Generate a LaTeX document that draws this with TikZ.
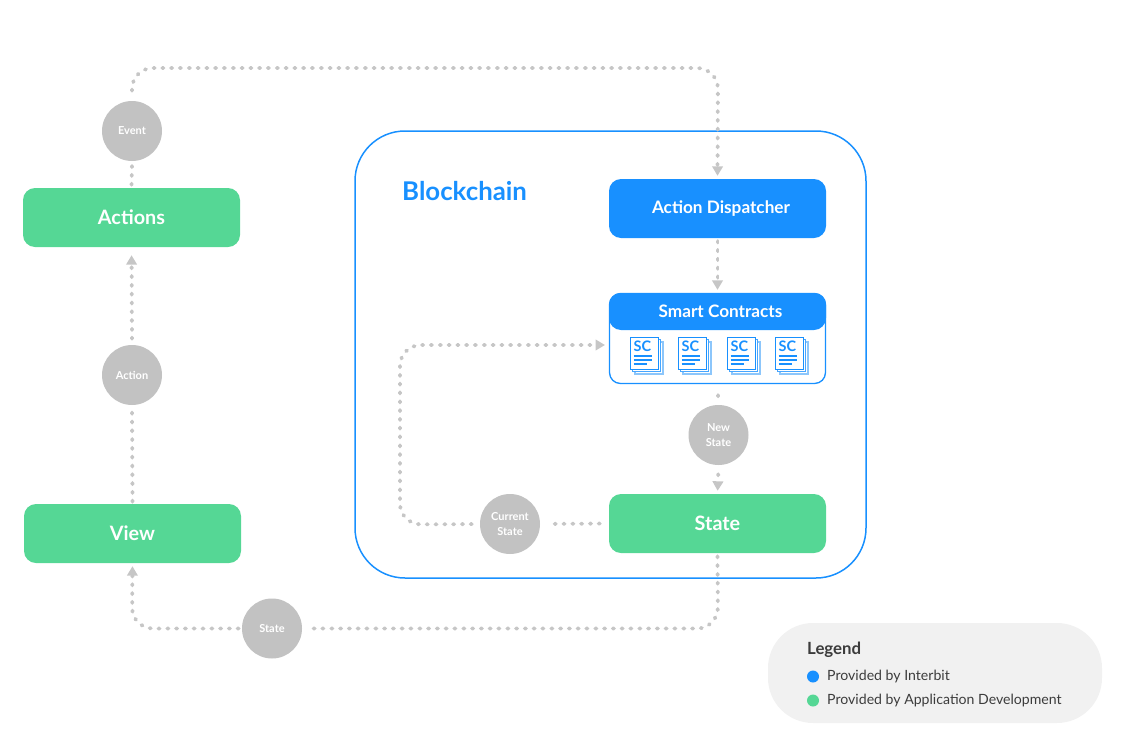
\documentclass[tikz,border=0pt]{standalone}
\usepackage{fontspec}
\setmainfont{Lato}
\usetikzlibrary{arrows.meta}
\definecolor{bcblue}{HTML}{1890FF}
\definecolor{bcgreen}{HTML}{55D795}
\definecolor{bcgrey}{HTML}{C2C2C2}
\definecolor{bcdot}{HTML}{C6C6C6}
\definecolor{bcleg}{HTML}{F1F1F1}
\definecolor{bctext}{HTML}{3C3C3C}
\definecolor{bcpale}{HTML}{8CC6FB}
\newcommand{\lowr}[1]{\raisebox{-2pt}{#1}}
\tikzset{
  x=1pt,y=-1pt,
  greenbox/.style={fill=bcgreen,rounded corners=12pt,minimum width=217pt,minimum height=59pt,inner sep=0pt,text=white,font=\fontsize{19.8}{22}\selectfont\bfseries},
  bluebox/.style={greenbox,fill=bcblue,font=\fontsize{17.2}{20}\selectfont\bfseries},
  badge/.style={circle,fill=bcgrey,minimum size=60pt,inner sep=0pt,text=white,align=center,font=\fontsize{11}{15}\selectfont\bfseries},
  dotline/.style={draw=bcdot,line width=3.8pt,line cap=round,dash pattern=on 1.2pt off 7.6pt,rounded corners=21pt},
  tipped/.style={-{Triangle[length=9.5pt,width=10.5pt,fill=bcdot,color=bcdot]}},
  legtext/.style={anchor=west,inner sep=0pt,text=bctext,font=\fontsize{14.1}{16}\selectfont},
  legdot/.style={circle,minimum size=12pt,inner sep=0pt},
  pagebox/.style={draw=bcblue,fill=white,line width=1.1pt},
  pagemid/.style={draw=bcblue!80!white,fill=white,line width=1.1pt},
  pagepale/.style={draw=bcpale,fill=white,line width=1.1pt},
  pageline/.style={draw=bcblue,line width=1.3pt},
}
\begin{document}
\begin{tikzpicture}
\useasboundingbox (0,0) rectangle (1125,750);
% containers
\node[draw=bcblue,line width=1.5pt,rounded corners=50pt,minimum width=511pt,minimum height=447pt,inner sep=0pt] (chain) at (610.5,354.5) {};
\node[anchor=west,inner sep=0pt,text=bcblue,font=\fontsize{25.8}{28}\selectfont\bfseries] (chaintitle) at (402,191) {Blockchain};
\node[fill=bcleg,rounded corners=45pt,minimum width=334pt,minimum height=100pt,inner sep=0pt] (legend) at (935,673) {};
% boxes
\node[greenbox] (actions) at (131.5,217.5) {\lowr{Actions}};
\node[greenbox] (view) at (132.5,533.5) {\lowr{View}};
\node[bluebox] (dispatch) at (717.5,208.5) {\hspace*{7pt}\lowr{Action Dispatcher}};
\node[greenbox] (state) at (717.5,523.5) {\lowr{State}};
\node[draw=bcblue,line width=1.3pt,fill=white,rounded corners=11pt,minimum width=216pt,minimum height=90pt,inner sep=0pt] (sc) at (717.5,338.5) {};
\node[bluebox,minimum height=37pt,rounded corners=12pt] (schead) at (717.5,311.5) {\hspace*{6pt}Smart Contracts};
% contract icons
\foreach \i/\xx in {1/630,2/678,3/727,4/775}{
  \begin{scope}[shift={(\xx,337)}]
    \draw[pagepale] (5,5) rectangle (33,37);
    \draw[pagemid] (2.5,2.5) rectangle (30.5,34.5);
    \node[pagebox,anchor=north west,inner sep=0pt,minimum width=28pt,minimum height=32pt] (doc\i) at (0,0) {};
    \node[anchor=west,inner sep=0pt,text=bcblue,font=\fontsize{14.5}{15}\selectfont\bfseries] (sclabel\i) at (3.5,9) {SC};
    \draw[pageline] (3.5,19) -- (22,19);
    \draw[pageline] (3.5,23) -- (22,23);
    \draw[pageline] (3.5,27) -- (17,27);
  \end{scope}
}
% badges
\node[badge] (event) at (132,131) {\lowr{Event}};
\node[badge] (action) at (132,375) {\lowr{Action}};
\node[badge] (newstate) at (718.5,435) {\lowr{New}\\\lowr{State}};
\node[badge] (curstate) at (510,524) {\lowr{Current}\\\lowr{State}};
\node[badge] (viewstate) at (272,628.5) {\lowr{State}};
% corner coordinates
\coordinate (t1) at (132,68);
\coordinate (t2) at (718,68);
\coordinate (b1) at (718,628.5);
\coordinate (b2) at (132,628.5);
\coordinate (l1) at (400,524.5);
\coordinate (l2) at (400,345);
\coordinate (sctarget) at (609,345);
% connectors
\path[dotline,tipped,shorten <=10pt,shorten >=3pt] (event.north) -- (t1) -- (t2) -- (dispatch.north);
\path[dotline,shorten <=3pt,shorten >=3pt] (actions.north) -- (event.south);
\path[dotline,shorten <=2pt,shorten >=7pt] (view.north) -- (action.south);
\path[dotline,tipped,shorten <=6pt,shorten >=8pt] (action.north) -- (actions.south);
\path[dotline,tipped,shorten <=3pt,shorten >=3pt] (dispatch.south) -- (sc.north);
\path[dotline,shorten <=11pt,shorten >=7pt] (sc.south) -- (newstate.north);
\path[dotline,tipped,shorten <=9pt,shorten >=3pt] (newstate.south) -- (state.north);
\path[dotline,shorten <=9pt,shorten >=10pt] (state.west) -- (curstate.east);
\path[dotline,tipped,shorten <=8pt,shorten >=4pt] (curstate.west) -- (l1) -- (l2) -- (sctarget);
\path[dotline,shorten <=3pt,shorten >=10pt] (state.south) -- (b1) -- (viewstate.east);
\path[dotline,tipped,shorten <=3pt,shorten >=3pt] (viewstate.west) -- (b2) -- (view.south);
% legend
\node[anchor=west,inner sep=0pt,text=bctext,font=\fontsize{16.8}{18}\selectfont\bfseries] (legtitle) at (807,649.5) {Legend};
\node[legdot,fill=bcblue] (legblue) at (813,676.5) {};
\node[legtext] (legbluetext) at (827,677) {Provided by Interbit};
\node[legdot,fill=bcgreen] (leggreen) at (813,700.5) {};
\node[legtext] (leggreentext) at (827,701) {Provided by Application Development};
\end{tikzpicture}
\end{document}
